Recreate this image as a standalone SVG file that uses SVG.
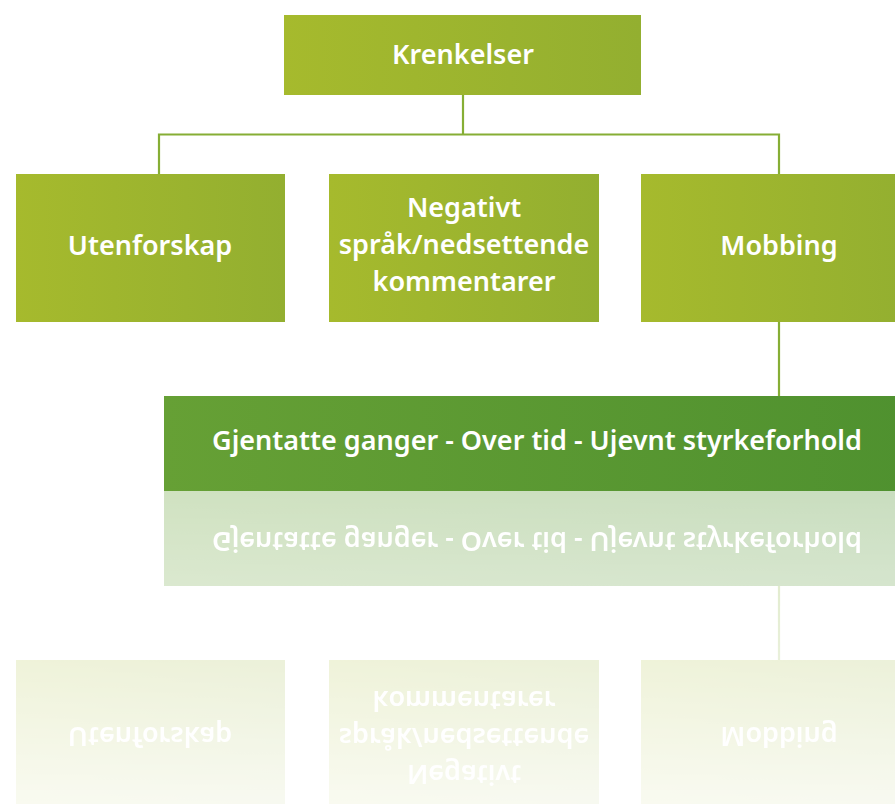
<svg xmlns="http://www.w3.org/2000/svg" xmlns:xlink="http://www.w3.org/1999/xlink" width="895" height="804" viewBox="0 0 895 804">
<defs>
<linearGradient id="gNode" x1="0" y1="0" x2="1" y2="0">
<stop offset="0" stop-color="#a6ba2d"/>
<stop offset="1" stop-color="#93af30"/>
</linearGradient>
<linearGradient id="gBar" x1="0" y1="0" x2="1" y2="0">
<stop offset="0" stop-color="#66a035"/>
<stop offset="1" stop-color="#4f912f"/>
</linearGradient>
<linearGradient id="gFade" gradientUnits="userSpaceOnUse" x1="0" y1="491" x2="0" y2="804">
<stop offset="0" stop-color="#fff" stop-opacity="0.31"/>
<stop offset="1" stop-color="#fff" stop-opacity="0.07"/>
</linearGradient>
<mask id="fade" maskUnits="userSpaceOnUse" x="0" y="491" width="895" height="313">
<rect x="0" y="491" width="895" height="313" fill="url(#gFade)"/>
</mask>
<style>
.node{fill:url(#gNode)}
.bar{fill:url(#gBar)}
.lbl{font-family:"Noto Sans","Open Sans",sans-serif;font-weight:600;font-size:27px;fill:#ffffff;text-anchor:middle}
.conn{stroke:#86ae35;stroke-width:2.2;fill:none}
</style>
</defs>
<rect width="895" height="804" fill="#ffffff"/>
<g id="main">
<g id="connectors">
<path class="conn" d="M463 95V134.5M159 174V134.5H779V174M779 322V396"/>
</g>
<g id="n-krenkelser">
<rect class="node" x="284" y="15" width="357" height="80"/>
<text class="lbl" x="463" y="64">Krenkelser</text>
</g>
<g id="n-utenforskap">
<rect class="node" x="16" y="174" width="269" height="148"/>
<text class="lbl" x="150" y="255">Utenforskap</text>
</g>
<g id="n-negativt">
<rect class="node" x="329" y="174" width="270" height="148"/>
<text class="lbl" x="464" y="217">Negativt</text>
<text class="lbl" x="464" y="254">språk/nedsettende</text>
<text class="lbl" x="464" y="291">kommentarer</text>
</g>
<g id="n-mobbing">
<rect class="node" x="641" y="174" width="270" height="148"/>
<text class="lbl" x="779" y="255">Mobbing</text>
</g>
<g id="n-bar">
<rect class="bar" x="164" y="396" width="746" height="95"/>
<text class="lbl" x="537" y="450">Gjentatte ganger - Over tid - Ujevnt styrkeforhold</text>
</g>
</g>
<g id="reflection" mask="url(#fade)">
<use xlink:href="#main" href="#main" transform="translate(0,982) scale(1,-1)"/>
</g>
</svg>
